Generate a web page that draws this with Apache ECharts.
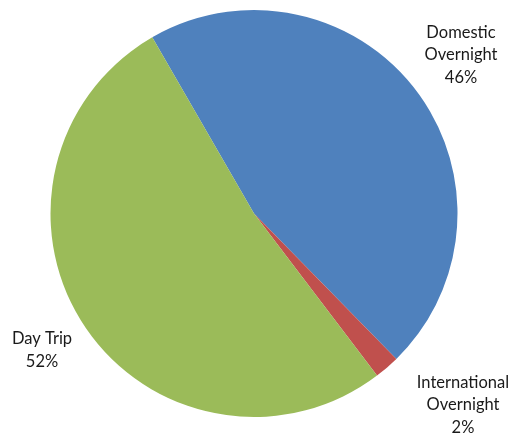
<!DOCTYPE html>
<html>
<head>
<meta charset="utf-8">
<script src="https://cdn.jsdelivr.net/npm/echarts@6/dist/echarts.min.js"></script>
<style>
  html, body { margin: 0; padding: 0; background: #ffffff; }
  #chart { width: 511px; height: 433px; }
</style>
</head>
<body>
<div id="chart"></div>
<script>
// Trip types and their share of all trips (%)
const categories = ['Domestic Overnight', 'International Overnight', 'Day Trip'];
const shares = [46, 2, 52];
const labelTexts = ['Domestic\nOvernight\n46%', 'International\nOvernight\n2%', 'Day Trip\n52%'];
const colors = ['#4F81BD', '#C0504D', '#9BBB59'];

// Where each label block is centred
const labelSpots = [[461, 55], [463, 405], [42, 350]];

const chart = echarts.init(document.getElementById('chart'), null, { renderer: 'canvas' });

chart.setOption({
  animation: false,
  series: [{
    type: 'pie',
    center: [254, 213.5],
    radius: [0, 203.5],
    startAngle: 120,
    clockwise: true,
    silent: true,
    data: categories.map((name, i) => ({
      name: name,
      value: shares[i],
      itemStyle: { color: colors[i] },
      label: { formatter: labelTexts[i] }
    })),
    label: {
      show: true,
      position: 'inside',
      overflow: 'none',
      color: '#1a1a1a',
      fontFamily: 'Lato, "Liberation Sans", sans-serif',
      fontSize: 16.5,
      lineHeight: 22.5,
      align: 'center'
    },
    labelLine: { show: false },
    labelLayout: function (params) {
      const p = labelSpots[params.dataIndex];
      return { x: p[0], y: p[1], align: 'center', verticalAlign: 'middle', hideOverlap: false };
    }
  }]
});
</script>
</body>
</html>
